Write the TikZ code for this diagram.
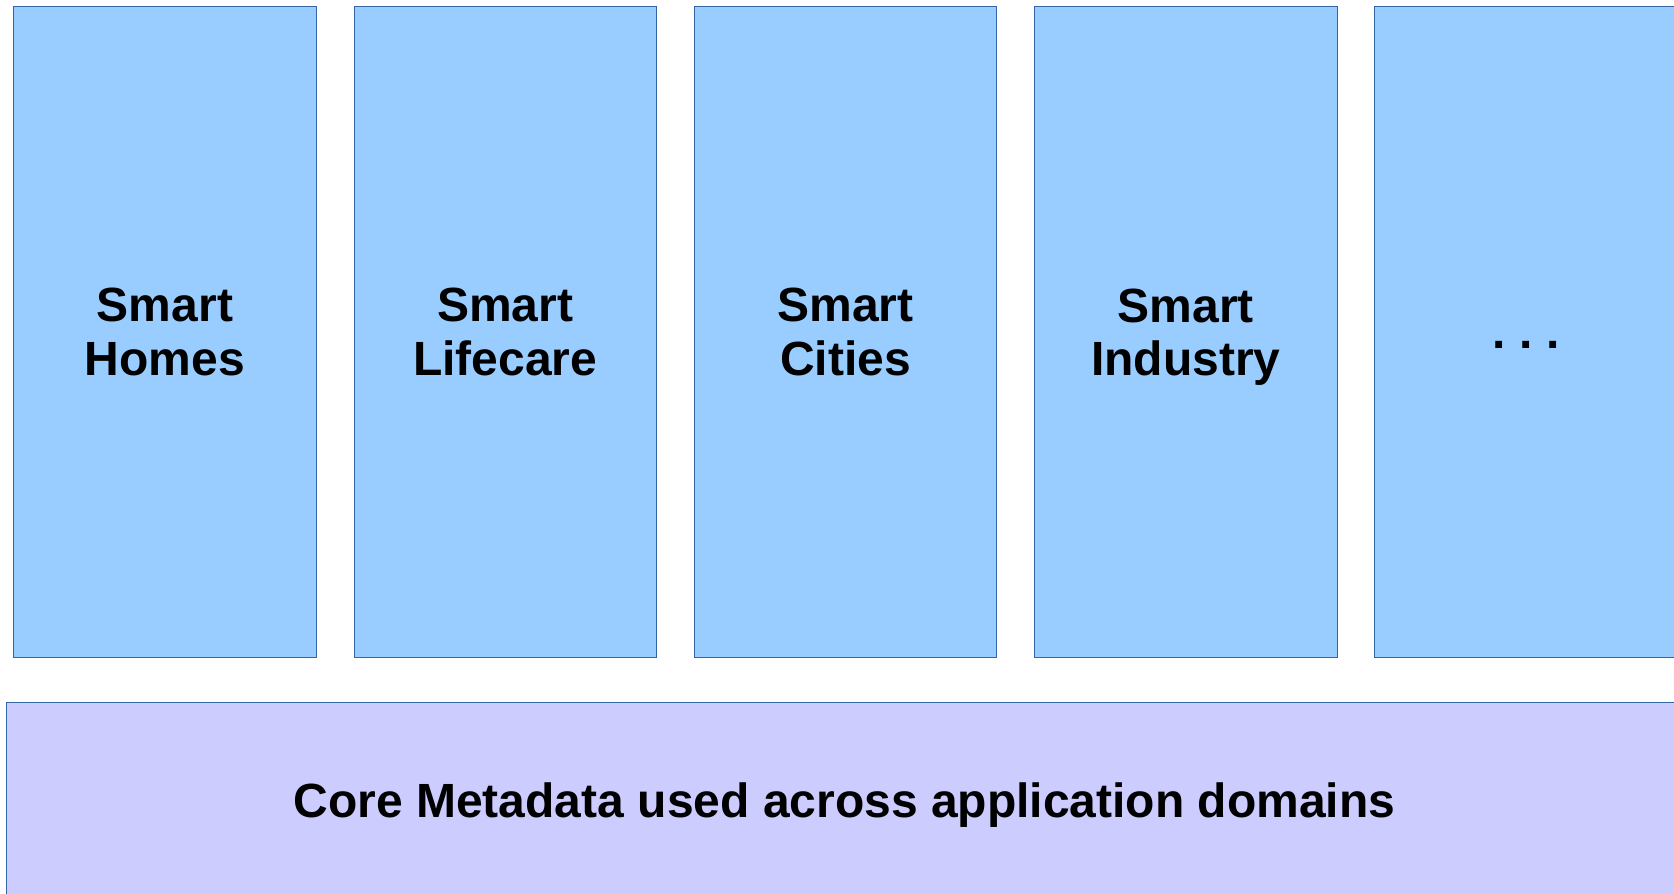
\documentclass[tikz,border=0pt]{standalone}
\usepackage{fontspec}
\setmainfont{Liberation Sans}
\definecolor{domainfill}{RGB}{153,204,255}
\definecolor{corefill}{RGB}{204,204,255}
\definecolor{boxline}{RGB}{52,101,164}
\begin{document}
\begin{tikzpicture}[x=1pt, y=-1pt,
	domainbox/.style={draw=boxline, line width=1pt, fill=domainfill, inner sep=0pt, outer sep=0pt,
		minimum width=302.6pt, minimum height=650.3pt, align=center,
		font=\fontsize{48}{53.4}\selectfont\bfseries},
	corebox/.style={draw=boxline, line width=1pt, fill=corefill, inner sep=0pt, outer sep=0pt,
		minimum width=1676.4pt, minimum height=204.7pt,
		font=\fontsize{48}{53.4}\selectfont\bfseries}]
	% page: 1674 x 894, y runs downwards
	\useasboundingbox (0,0) rectangle (1674,894);
	\clip (0,0) rectangle (1674,894);
	
	\node[domainbox] (Homes)    at ( 165.0, 332.0) {Smart\\Homes};
	\node[domainbox] (Lifecare) at ( 505.3, 332.0) {Smart\\Lifecare};
	\node[domainbox] (Cities)   at ( 845.6, 332.0) {Smart\\Cities};
	\node[domainbox] (Industry) at (1185.9, 332.0) {Smart\\\smash{Industry}};
	\node[domainbox] (More)     at (1526.2, 332.0) {\vphantom{S}.\kern13.7pt.\kern13.7pt.};
	
	\node[corebox] (Core) at (844.5, 804.7) {Core Metadata used across application domains};
	
\end{tikzpicture}
\end{document}
